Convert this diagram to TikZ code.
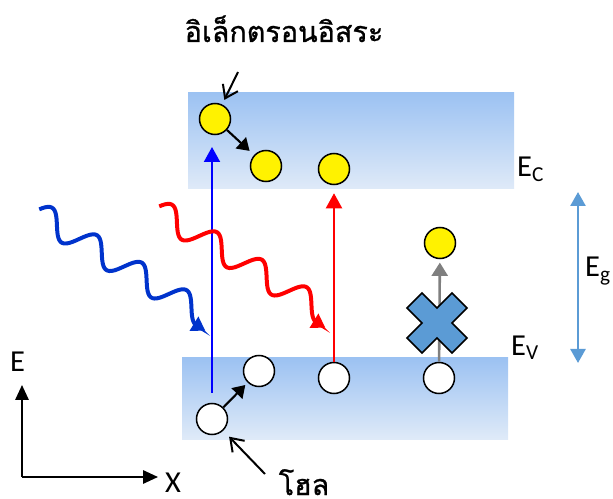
\documentclass[tikz,border=0pt]{standalone}
\usepackage{fontspec}
\setmainfont{Carlito}
\newfontfamily\thaifont[Script=Thai, FakeBold=1]{Loma}
\usetikzlibrary{arrows.meta}
\definecolor{bandtop}{HTML}{9CC2F2}
\definecolor{bandbot}{HTML}{DFEAF8}
\definecolor{wavedeep}{HTML}{0033CC}
\definecolor{gapblue}{HTML}{5B9BD5}
\definecolor{liftgray}{HTML}{7F7F7F}

\begin{document}
\begin{tikzpicture}[x=0.3mm, y=-0.3mm, every node/.style={font=\fontsize{26}{30}\selectfont, inner sep=0pt},
  electron/.style={circle, draw, line width=1.3pt, fill=yellow, minimum size=9.3mm},
  hole/.style={electron, fill=white},
  excite/.style={line width=1.7pt, -{Triangle[length=4.5mm, width=4.8mm]}},
  hop/.style={line width=1.8pt, -{Triangle[length=3.6mm, width=4.5mm]}},
  lift/.style={line width=2.2pt, liftgray, -{Triangle[length=4mm, width=4.8mm]}},
  pointer/.style={line width=1.7pt, -{Straight Barb[length=3.6mm, width=5mm]}},
  photon/.style={line width=3.4pt, -{Triangle[length=4mm, width=4.8mm]}},
  axis/.style={line width=1.8pt, -{Triangle[length=4.5mm, width=4mm]}},
  gaparrow/.style={line width=2.2pt, gapblue, {Triangle[length=4.2mm, width=4.5mm]}-{Triangle[length=4.2mm, width=4.5mm]}},
  bandlabel/.style={anchor=base west},
  thailabel/.style={font=\thaifont\fontsize{24.5}{28}\selectfont, anchor=base, text depth=0pt}]
\useasboundingbox (0,0) rectangle (613,499);

% conduction and valence bands
\shade[top color=bandtop, bottom color=bandbot] (188,93) rectangle (514,189);
\shade[top color=bandtop, bottom color=bandbot] (182,358) rectangle (508,439);

% electrons and holes
\node[electron] (e1) at (215,119) {};
\node[electron] (e2) at (266,166) {};
\node[electron] (e3) at (334,169) {};
\node[electron] (e4) at (440,243) {};
\node[hole] (h1) at (212,419) {};
\node[hole] (h2) at (259,371) {};
\node[hole] (h3) at (334,378) {};
\node[hole] (h4) at (439,378) {};

\draw[excite, blue, shorten <=3mm, shorten >=8.4mm] (h1) -- (h1 |- e1);
\draw[excite, red, shorten >=2.4mm] (h3) -- (e3);
\draw[hop, shorten >=1.8mm] (e1) -- (e2);
\draw[hop, shorten >=1mm] (h1) -- (h2);
\draw[lift, shorten >=1mm] (h4) -- (e4);

% forbidden transition
\begin{scope}[shift={(437,323)}, rotate=45]
\draw[fill=gapblue, line width=1.3pt] (10.6,10.6) -- (10.6,31.8) -- (-10.6,31.8) -- (-10.6,10.6)
  -- (-31.8,10.6) -- (-31.8,-10.6) -- (-10.6,-10.6) -- (-10.6,-31.8) -- (10.6,-31.8)
  -- (10.6,-10.6) -- (31.8,-10.6) -- (31.8,10.6) -- cycle;
\end{scope}

% photons
\foreach \sx/\sy/\wc in {37/213/wavedeep, 157/210/red}{
  \begin{scope}[shift={(\sx,\sy)}, rotate=-31.5]
    \draw[photon, \wc] plot[domain=0:194, samples=100] (\x, {-12.4*sin(6.844*(\x+2.95))}) -- (205,12.4);
  \end{scope}
}

% labels
\node[thailabel] (freeE) at (284,42) {อิเล็กตรอนอิสระ};
\node[thailabel] (holeE) at (304,495) {โฮล};
\coordinate (freetail) at (238,72);
\coordinate (holetail) at (265,474);
\draw[pointer, shorten >=1.5mm] (freetail) -- (e1);
\draw[pointer, shorten >=2.5mm] (holetail) -- (h1);

\node[bandlabel] (ec) at (517,177) {E\textsubscript{C}};
\node[bandlabel] (ev) at (511,355) {E\textsubscript{V}};
\node[bandlabel] (eg) at (585,277) {E\textsubscript{g}};
\coordinate (gaptop) at (578,192);
\coordinate (gapbot) at (578,363);
\draw[gaparrow] (gaptop) -- (gapbot);

% axes
\coordinate (origin) at (22,477);
\coordinate (etip) at (22,385);
\coordinate (xtip) at (158,477);
\draw[axis] (origin) -- (etip);
\draw[axis] (origin) -- (xtip);
\node[bandlabel] (elabel) at (10,372) {E};
\node[bandlabel] (xlabel) at (165,492) {X};
\end{tikzpicture}
\end{document}
